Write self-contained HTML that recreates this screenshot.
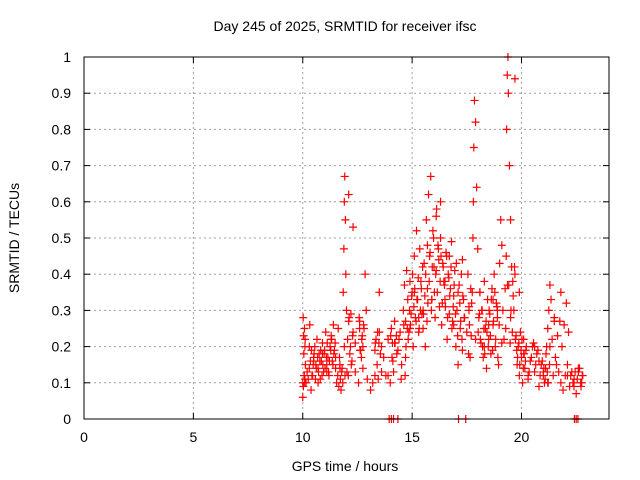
<!DOCTYPE html>
<html><head><meta charset="utf-8"><style>
body{margin:0;background:#fff}
svg{display:block;font-family:"Liberation Sans",sans-serif}
</style></head><body>
<svg id="chart" width="640" height="480" viewBox="0 0 640 480">
<rect width="640" height="480" fill="#fff"/>
<text x="345" y="31" text-anchor="middle" font-size="14" fill="#000">Day 245 of 2025, SRMTID for receiver ifsc</text>
<g id="grid"></g>
<g id="xt"></g>
<g id="yt"></g>
<g id="pts"></g>
<rect x="84" y="57" width="525" height="362" fill="none" stroke="#000" stroke-width="1"/>
<text x="345" y="471" text-anchor="middle" font-size="14">GPS time / hours</text>
<text transform="translate(19,238) rotate(-90)" text-anchor="middle" font-size="14">SRMTID / TECUs</text>
</svg>
<script>
const xTicks=[0,5,10,15,20];
const yTicks=[0,0.1,0.2,0.3,0.4,0.5,0.6,0.7,0.8,0.9,1];
const yTickLabels=["0","0.1","0.2","0.3","0.4","0.5","0.6","0.7","0.8","0.9","1"];
const hours=[10.0,10.02,10.04,10.05,10.07,10.08,10.1,10.12,10.15,10.2,10.25,10.3,10.35,10.4,10.45,10.5,10.55,10.6,10.65,10.7,10.75,10.8,10.85,10.9,10.95,11.0,11.05,11.1,11.15,11.2,11.25,11.3,11.35,11.4,11.45,11.5,11.55,11.6,11.65,11.7,11.75,11.8,11.85,11.88,11.9,11.92,11.95,11.97,12.0,12.05,12.1,12.15,12.2,12.25,12.3,12.4,12.55,12.6,12.65,12.7,12.75,12.8,12.85,12.9,13.3,13.35,13.4,13.5,13.6,13.7,13.8,13.9,14.0,14.05,14.1,14.15,14.2,14.3,14.4,14.5,14.6,14.65,14.7,14.75,14.8,14.85,14.9,14.95,15.0,15.05,15.1,15.15,15.2,15.25,15.3,15.35,15.4,15.45,15.5,15.55,15.6,15.65,15.7,15.75,15.8,15.85,15.9,15.95,16.0,16.05,16.1,16.15,16.2,16.25,16.3,16.35,16.4,16.45,16.5,16.55,16.6,16.65,16.7,16.75,16.8,16.85,16.9,16.95,17.0,17.05,17.1,17.15,17.2,17.25,17.3,17.35,17.4,17.5,17.55,17.6,17.65,17.7,17.75,17.78,17.8,17.82,17.85,17.9,17.95,18.0,18.05,18.1,18.15,18.2,18.25,18.3,18.35,18.4,18.45,18.5,18.55,18.6,18.65,18.7,18.75,18.8,18.85,18.9,18.95,19.0,19.05,19.1,19.15,19.2,19.25,19.28,19.3,19.32,19.35,19.38,19.4,19.45,19.5,19.55,19.6,19.65,19.7,19.75,19.8,19.85,19.9,19.95,20.0,20.05,20.1,20.15,20.2,20.3,20.4,20.5,20.6,20.7,20.8,20.9,21.0,21.05,21.1,21.15,21.2,21.25,21.3,21.35,21.4,21.5,21.6,21.7,21.8,21.9,22.0,22.1,22.2,22.3,22.4,22.5,22.6,22.7,22.8,
10.03,10.1,10.3,10.5,10.7,10.9,11.1,11.3,11.5,11.7,11.9,11.93,12.1,12.3,12.6,12.75,13.5,13.9,14.2,14.7,14.9,15.1,15.3,15.5,15.7,15.9,16.1,16.3,16.5,16.7,16.9,17.1,17.3,17.6,17.9,18.1,18.3,18.5,18.7,18.9,19.1,19.36,19.5,19.7,19.9,20.1,20.3,20.6,20.8,21.0,21.2,21.3,21.5,21.8,22.1,22.4,22.6,22.75,
10.06,10.09,10.11,10.32,10.38,10.42,10.48,10.52,10.58,10.62,10.68,10.72,10.78,10.82,10.88,10.92,10.98,11.02,11.08,11.12,11.18,11.22,11.28,11.32,11.38,11.42,11.48,11.62,11.68,11.72,11.78,11.83,12.02,12.08,12.12,12.18,12.22,12.28,12.58,12.62,12.68,12.72,12.78,13.32,13.42,13.48,13.55,14.02,14.08,14.12,14.22,14.28,14.35,14.45,14.52,14.62,14.68,14.72,14.78,14.82,14.88,14.92,14.98,15.02,15.08,15.12,15.18,15.22,15.28,15.32,15.38,15.42,15.48,15.52,15.58,15.62,15.68,15.72,15.78,15.82,15.88,15.92,15.98,16.02,16.08,16.12,16.18,16.22,16.28,16.32,16.38,16.42,16.48,16.52,16.58,16.62,16.68,16.72,16.78,16.82,16.88,16.92,16.98,17.02,17.08,17.18,17.22,17.28,17.32,17.38,17.58,17.62,17.68,17.72,18.02,18.08,18.12,18.18,18.22,18.28,18.32,18.38,18.42,18.48,18.52,18.58,18.62,18.68,18.72,18.78,18.82,18.88,18.92,18.98,19.42,19.48,19.52,19.58,19.62,19.68,19.72,19.78,19.82,19.88,19.92,19.98,20.02,20.08,20.12,20.18,20.22,20.35,20.45,20.55,20.65,20.75,20.85,20.95,21.02,21.08,21.12,21.18,21.22,21.28,21.45,21.55,21.65,21.75,21.85,21.95,22.05,22.15,22.25,22.35,22.45,22.55,22.65,22.72,22.78,
10.0,12.4,12.95,13.1,13.2,13.3,13.45,13.6,13.95,14.05,14.15,14.35,17.12,17.45,22.42,22.5,22.58];
const values=[0.06,0.28,0.23,0.18,0.12,0.25,0.2,0.15,0.1,0.13,0.11,0.14,0.16,0.19,0.12,0.17,0.2,0.15,0.22,0.14,0.18,0.11,0.16,0.21,0.13,0.19,0.24,0.15,0.17,0.12,0.2,0.23,0.16,0.26,0.19,0.14,0.1,0.12,0.09,0.15,0.08,0.14,0.35,0.47,0.6,0.67,0.55,0.4,0.3,0.22,0.27,0.18,0.29,0.16,0.24,0.21,0.1,0.27,0.19,0.22,0.14,0.25,0.4,0.3,0.19,0.22,0.15,0.24,0.2,0.17,0.12,0.22,0.1,0.25,0.21,0.13,0.27,0.18,0.22,0.11,0.3,0.37,0.27,0.41,0.33,0.24,0.38,0.29,0.35,0.2,0.45,0.28,0.52,0.33,0.24,0.47,0.38,0.29,0.3,0.43,0.2,0.55,0.36,0.62,0.45,0.67,0.33,0.52,0.42,0.28,0.56,0.35,0.47,0.31,0.5,0.26,0.43,0.38,0.33,0.46,0.22,0.4,0.29,0.36,0.49,0.27,0.34,0.41,0.2,0.3,0.15,0.37,0.25,0.4,0.19,0.33,0.28,0.24,0.4,0.31,0.17,0.23,0.35,0.5,0.6,0.75,0.88,0.82,0.64,0.47,0.28,0.35,0.21,0.3,0.17,0.38,0.25,0.14,0.33,0.22,0.29,0.18,0.36,0.26,0.4,0.2,0.32,0.28,0.15,0.43,0.55,0.48,0.3,0.22,0.36,0.25,0.45,0.8,0.95,1.0,0.9,0.7,0.55,0.42,0.38,0.3,0.4,0.23,0.15,0.2,0.12,0.24,0.17,0.1,0.22,0.14,0.19,0.11,0.16,0.2,0.13,0.18,0.09,0.15,0.12,0.1,0.14,0.2,0.25,0.3,0.37,0.33,0.22,0.28,0.15,0.13,0.1,0.08,0.12,0.15,0.09,0.13,0.11,0.07,0.14,0.1,0.12,0.09,0.11,
0.2,0.16,0.1,0.18,0.13,0.22,0.17,0.14,0.2,0.12,0.62,0.53,0.25,0.2,0.35,0.12,0.21,0.17,0.25,0.35,0.28,0.25,0.48,0.33,0.41,0.6,0.38,0.45,0.26,0.35,0.44,0.3,0.22,0.35,0.2,0.26,0.33,0.3,0.21,0.37,0.28,0.94,0.35,0.18,0.12,0.2,0.16,0.13,0.1,0.2,0.27,0.35,0.12,0.09,0.13,0.1,0.12,0.1,
0.22,0.26,0.08,0.12,0.15,0.18,0.11,0.14,0.17,0.13,0.16,0.19,0.12,0.15,0.18,0.14,0.17,0.21,0.13,0.16,0.19,0.22,0.15,0.18,0.21,0.25,0.17,0.11,0.13,0.1,0.13,0.12,0.28,0.2,0.15,0.23,0.28,0.19,0.17,0.23,0.26,0.21,0.24,0.21,0.18,0.23,0.17,0.16,0.21,0.23,0.19,0.24,0.15,0.26,0.12,0.2,0.25,0.22,0.3,0.26,0.34,0.4,0.31,0.36,0.27,0.33,0.39,0.25,0.3,0.36,0.42,0.29,0.34,0.4,0.27,0.32,0.38,0.46,0.3,0.42,0.5,0.35,0.4,0.58,0.48,0.44,0.38,0.45,0.32,0.42,0.37,0.31,0.45,0.28,0.39,0.34,0.42,0.25,0.31,0.37,0.29,0.43,0.23,0.32,0.27,0.22,0.34,0.28,0.18,0.26,0.36,0.32,0.24,0.29,0.22,0.3,0.2,0.25,0.18,0.27,0.24,0.2,0.3,0.23,0.33,0.19,0.27,0.35,0.22,0.31,0.17,0.26,0.37,0.21,0.3,0.24,0.34,0.42,0.22,0.19,0.17,0.21,0.15,0.19,0.22,0.14,0.18,0.16,0.2,0.13,0.17,0.21,0.15,0.19,0.12,0.16,0.14,0.11,0.18,0.13,0.1,0.15,0.12,0.17,0.23,0.27,0.2,0.26,0.32,0.24,0.12,0.1,0.13,0.11,0.14,0.09,0.12,0.1,0.13,0.11,0.08,0.1,0.12,0.11,0.13,
0,0,0,0,0,0,0,0,0,0,0,0,0,0,0,0,0];
const X0=84,X1=609,Y0=419,Y1=57;
function xs(h){return X0+(X1-X0)*h/24;}
function ys(v){return Y0-(Y0-Y1)*v;}
const NS="http://www.w3.org/2000/svg";
const grid=document.getElementById('grid'),xt=document.getElementById('xt'),yt=document.getElementById('yt'),pts=document.getElementById('pts');
function mk(t,a,p){const e=document.createElementNS(NS,t);for(const k in a)e.setAttribute(k,a[k]);p.appendChild(e);return e;}
yTicks.forEach((v,i)=>{
  const y=ys(v);
  if(i>0&&i<yTicks.length-1){const g=mk('line',{x1:X0,x2:X1,y1:y,y2:y,stroke:'#a0a0a0','stroke-dasharray':'2,3'},grid);
  
  }
  mk('line',{x1:X0,x2:X0+6,y1:y,y2:y,stroke:'#000'},yt);
  mk('line',{x1:X1,x2:X1-6,y1:y,y2:y,stroke:'#000'},yt);
  const t=mk('text',{x:X0-13,y:y+5,'text-anchor':'end','font-size':'14'},yt);
  t.textContent=yTickLabels[i];
  
  
});
xTicks.forEach(h=>{
  const x=xs(h);
  if(h>0){const g=mk('line',{x1:x,x2:x,y1:Y0,y2:Y1,stroke:'#a0a0a0','stroke-dasharray':'2,3'},grid);
  
  }
  mk('line',{x1:x,x2:x,y1:Y0,y2:Y0-6,stroke:'#000'},xt);
  mk('line',{x1:x,x2:x,y1:Y1,y2:Y1+6,stroke:'#000'},xt);
  const t=mk('text',{x:x,y:Y0+23,'text-anchor':'middle','font-size':'14'},xt);
  t.textContent=String(h);
  
  
});
for(let i=0;i<hours.length;i++){
  const x=xs(hours[i]),y=ys(values[i]);
  const p=mk('path',{d:`M${x-4},${y}H${x+4}M${x},${y-4}V${y+4}`,stroke:'#ff0000','stroke-width':'1.2',fill:'none'},pts);
  
  
}
</script>
</body></html>
